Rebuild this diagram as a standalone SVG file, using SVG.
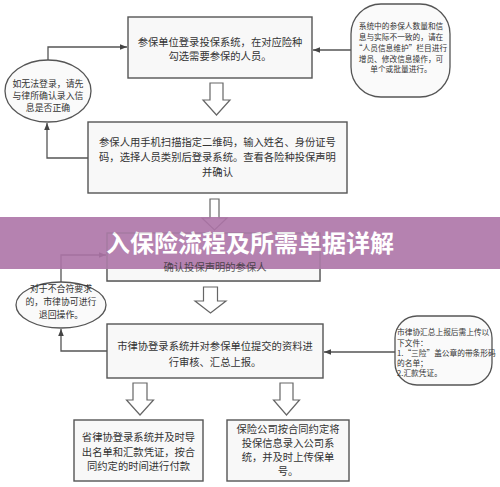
<svg xmlns="http://www.w3.org/2000/svg" width="500" height="487" viewBox="0 0 500 487">
<defs>
<style>
.box{fill:#f8f8f8;stroke:#555;stroke-width:1.4}
.note{fill:#fafafa;stroke:#555;stroke-width:1.3}
.ha{fill:#fff;stroke:#666;stroke-width:1.2}
.con{fill:none;stroke:#555;stroke-width:1.3}
text{font-family:"Noto Sans CJK SC","Noto Sans",sans-serif;fill:#333}
.t{font-size:10.3px;text-anchor:middle}
.s{font-size:8.9px;text-anchor:middle}
.n{font-size:7.7px}
.title{font-size:24px;font-weight:bold;fill:#fff;text-anchor:middle}
</style>
<marker id="ah" viewBox="0 0 10 10" refX="10" refY="5" markerWidth="7" markerHeight="7" orient="auto" markerUnits="userSpaceOnUse">
<path d="M0,1 L10,5 L0,9 z" fill="#444"/>
</marker>
</defs>
<rect width="500" height="487" fill="#fff"/>

<g id="connectors">
<polyline class="con" points="48,60 48,47 127,47" marker-end="url(#ah)"/>
<polyline class="con" points="88,158 47,158 47,123" marker-end="url(#ah)"/>
<line class="con" x1="351" y1="50" x2="313" y2="50" marker-end="url(#ah)"/>
<polyline class="con" points="61,282 61,255 106,255" marker-end="url(#ah)"/>
<polyline class="con" points="107,351 61,351 61,329" marker-end="url(#ah)"/>
<line class="con" x1="395" y1="352" x2="324" y2="352" marker-end="url(#ah)"/>
<polygon class="ha" points="210,83 223,83 223,100 230,100 216.5,115 203,100 210,100"/>
<polygon class="ha" points="210,199 219,199 219,218 227,218 214.5,230 202,218 210,218"/>
<polygon class="ha" points="203.5,287 217.5,287 217.5,301 226,301 210.5,313 195,301 203.5,301"/>
<polygon class="ha" points="133,383 147,383 147,400 153.5,400 140,415 126.5,400 133,400"/>
<polygon class="ha" points="280,383 293,383 293,400 299.5,400 286.5,415 273.5,400 280,400"/>
</g>

<g id="box1">
<rect class="box" x="128" y="17" width="184" height="61"/>
<text class="t" x="220" y="45.5">参保单位登录投保系统，在对应险种</text>
<text class="t" x="220" y="59.5">勾选需要参保的人员。</text>
</g>

<g id="note1">
<rect class="note" x="351" y="4" width="99" height="93" rx="30" ry="30"/>
<text class="n" x="401" y="29" text-anchor="middle">系统中的参保人数量和信</text>
<text class="n" x="401" y="40" text-anchor="middle">息与实际不一致的，请在</text>
<text class="n" x="401" y="51" text-anchor="middle">“人员信息维护”栏目进行</text>
<text class="n" x="401" y="61.5" text-anchor="middle">增员、修改信息操作，可</text>
<text class="n" x="401" y="72" text-anchor="middle">单个或批量进行。</text>
</g>

<g id="ellipse1">
<ellipse class="note" cx="48" cy="91" rx="43" ry="31"/>
<text class="s" x="48" y="86.5">如无法登录，请先</text>
<text class="s" x="48" y="98.5">与律所确认录入信</text>
<text class="s" x="48" y="110.5">息是否正确</text>
</g>

<g id="box2">
<rect class="box" x="88" y="122" width="259" height="71"/>
<text class="t" x="217.5" y="146">参保人用手机扫描指定二维码，输入姓名、身份证号</text>
<text class="t" x="217.5" y="161">码，选择人员类别后登录系统。查看各险种投保声明</text>
<text class="t" x="217.5" y="176">并确认</text>
</g>

<g id="ellipse2">
<ellipse class="note" cx="61" cy="305" rx="45" ry="23"/>
<text class="s" x="61" y="292">对于不合符要求</text>
<text class="s" x="61" y="305">的，市律协可进行</text>
<text class="s" x="61" y="317.5">退回操作。</text>
</g>

<g id="box4">
<rect class="box" x="107" y="324" width="216" height="54"/>
<text class="t" x="215" y="350">市律协登录系统并对参保单位提交的资料进</text>
<text class="t" x="215" y="366">行审核、汇总上报。</text>
</g>

<g id="note2">
<rect class="note" x="395" y="316" width="97" height="69" rx="22" ry="22"/>
<text class="n" x="397" y="335">市律协汇总上报后需上传以</text>
<text class="n" x="397" y="346">下文件：</text>
<text class="n" x="397" y="356">1.“三险”盖公章的带条形码</text>
<text class="n" x="397" y="366">的名单；</text>
<text class="n" x="397" y="376">2.汇款凭证。</text>
</g>

<g id="box5">
<rect class="box" x="74" y="420" width="129" height="61"/>
<text class="t" x="138.5" y="441">省律协登录系统并及时导</text>
<text class="t" x="138.5" y="456">出名单和汇款凭证，按合</text>
<text class="t" x="138.5" y="470">同约定的时间进行付款</text>
</g>

<g id="box6">
<rect class="box" x="227" y="420" width="122" height="61"/>
<text class="t" x="288" y="433">保险公司按合同约定将</text>
<text class="t" x="288" y="447">投保信息录入公司系</text>
<text class="t" x="288" y="461">统，并及时上传保单</text>
<text class="t" x="288" y="475">号。</text>
</g>

<g id="banner">
<rect x="0" y="217" width="500" height="52" fill="#ad74a7" opacity="0.9"/>
<text class="title" x="250" y="252">入保险流程及所需单据详解</text>
</g>

<g id="box3">
<rect x="107" y="233" width="213" height="48" fill="none" stroke="#555" stroke-width="1.2" stroke-opacity="0.2"/>
<polyline points="107,269 107,281 320,281 320,269" fill="#f8f8f8" stroke="#555" stroke-width="1.4"/>
<text class="t" x="215" y="271" fill="#4a3048" opacity="0.8">确认投保声明的参保人</text>
</g>
</svg>
